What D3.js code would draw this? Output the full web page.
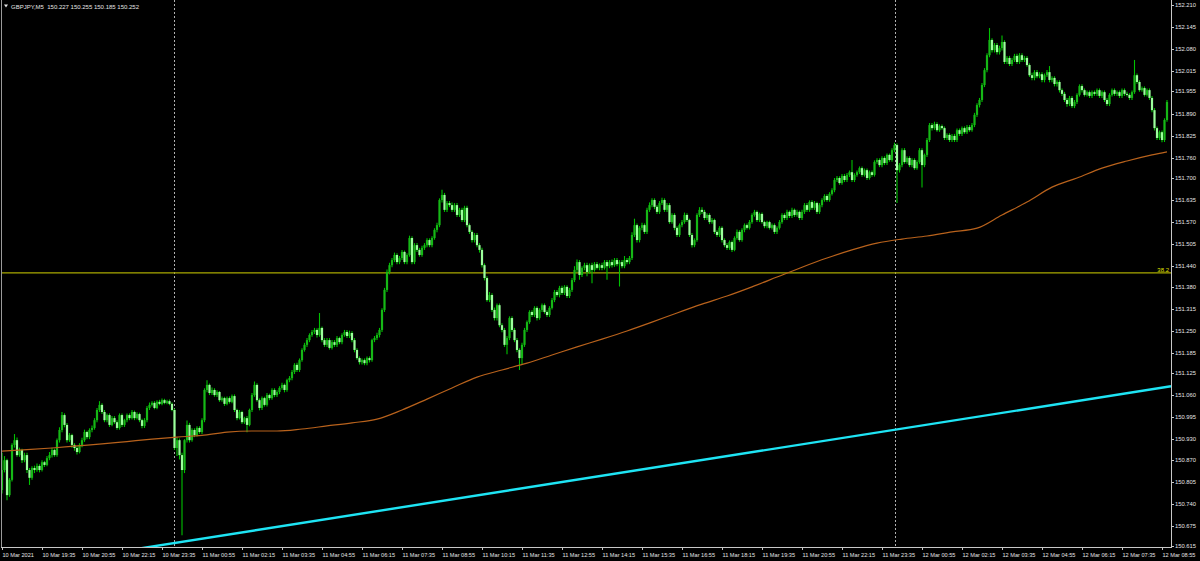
<!DOCTYPE html>
<html><head><meta charset="utf-8">
<script src="https://cdn.jsdelivr.net/npm/d3@7"></script>
<style>html,body{margin:0;padding:0;background:#000;overflow:hidden}svg{display:block}</style>
</head><body><svg id="c" width="1200" height="561"></svg>
<script>
// Prices in points (0.001) above BASE
const BASE = 150, POINT = 0.001;
const symbolTitle = "GBPJPY,M5  150.227 150.255 150.185 150.252";
const openP = [
780,839,868,765,810,913,927,883,898,868,
883,839,816,845,839,851,839,862,854,874,
883,898,883,927,957,1001,972,927,942,913,
904,892,913,927,951,936,957,963,986,1016,
1031,1010,986,1001,972,992,980,963,1001,972,
986,1001,992,1010,992,1004,986,969,986,1022,
1031,1037,1022,1040,1034,1045,1037,1042,1034,1016,
904,927,883,839,927,972,927,957,942,963,
951,986,1075,1090,1066,1075,1060,1069,1045,1051,
1034,1051,1040,1057,1016,992,1010,980,992,972,
1016,1060,1090,1045,1022,1051,1031,1060,1051,1075,
1060,1069,1081,1090,1075,1104,1110,1128,1149,1134,
1163,1193,1208,1222,1237,1246,1252,1237,1258,1222,
1208,1222,1199,1216,1208,1228,1216,1237,1246,1234,
1243,1222,1193,1169,1157,1163,1154,1169,1163,1222,
1228,1237,1252,1311,1370,1423,1443,1458,1473,1452,
1464,1482,1452,1473,1523,1452,1502,1488,1473,1494,
1502,1517,1502,1523,1547,1561,1635,1650,1606,1626,
1620,1606,1620,1591,1606,1576,1612,1561,1541,1517,
1532,1502,1488,1443,1405,1340,1355,1311,1287,1325,
1266,1252,1208,1228,1287,1252,1222,1193,1169,1208,
1252,1275,1305,1296,1317,1287,1311,1325,1305,1296,
1317,1340,1364,1355,1376,1361,1379,1352,1370,1399,
1429,1452,1414,1435,1443,1423,1443,1429,1446,1435,
1443,1435,1452,1440,1452,1443,1458,1446,1452,1440,
1458,1452,1464,1532,1561,1517,1553,1561,1541,1606,
1620,1635,1615,1600,1626,1635,1606,1620,1570,1591,
1553,1532,1561,1570,1591,1576,1532,1502,1517,1591,
1606,1600,1582,1591,1570,1576,1541,1532,1553,1517,
1502,1494,1511,1488,1523,1541,1517,1547,1561,1553,
1570,1591,1600,1576,1594,1570,1558,1570,1553,1561,
1541,1553,1570,1591,1582,1600,1588,1606,1591,1600,
1582,1600,1620,1606,1629,1612,1626,1600,1620,1635,
1647,1635,1653,1664,1694,1700,1685,1706,1694,1709,
1717,1694,1709,1717,1729,1709,1723,1700,1717,1709,
1747,1753,1738,1759,1744,1768,1753,1782,1797,1723,
1738,1782,1747,1759,1738,1753,1729,1747,1782,1738,
1768,1812,1856,1847,1859,1841,1853,1847,1818,1827,
1812,1824,1812,1841,1830,1847,1835,1850,1841,1856,
1886,1915,1930,1974,2018,2062,2107,2077,2092,2071,
2083,2101,2042,2054,2036,2048,2060,2042,2062,2048,
2054,2033,2003,1995,2012,2000,2006,1989,2003,2012,
1989,1995,1977,1983,1959,1948,1930,1918,1936,1912,
1924,1945,1971,1959,1945,1953,1942,1953,1948,1959,
1942,1953,1930,1918,1945,1959,1948,1953,1942,1959,
1948,1945,1936,1953,2003,1983,1959,1965,1945,1959,
1936,1900,1847,1818,1835,1812,1871];
const highP = [
890,880,872,815,918,945,935,905,902,890,
890,845,850,852,858,856,868,866,880,892,
905,902,932,965,1010,1006,978,948,946,918,
910,918,934,958,955,962,970,992,1022,1042,
1036,1016,1006,1006,998,998,986,1006,1006,990,
1006,1006,1016,1014,1009,1008,990,992,1028,1038,
1042,1042,1045,1046,1050,1049,1046,1047,1038,1020,
935,932,890,930,985,978,962,962,968,968,
992,1080,1104,1094,1082,1080,1074,1072,1056,1055,
1056,1056,1062,1062,1020,1016,1014,996,998,1020,
1066,1100,1095,1050,1056,1055,1066,1064,1080,1080,
1074,1086,1096,1094,1108,1116,1134,1154,1155,1168,
1198,1214,1228,1242,1252,1258,1257,1302,1262,1228,
1228,1228,1222,1222,1234,1232,1242,1252,1252,1250,
1248,1228,1198,1174,1168,1168,1174,1174,1226,1234,
1244,1258,1316,1376,1430,1450,1464,1480,1478,1470,
1488,1486,1478,1530,1528,1508,1508,1494,1500,1508,
1522,1522,1528,1552,1568,1640,1665,1656,1632,1632,
1628,1626,1626,1612,1612,1618,1618,1566,1546,1538,
1538,1508,1494,1448,1410,1364,1360,1318,1330,1330,
1272,1258,1234,1292,1292,1258,1228,1198,1214,1258,
1280,1310,1310,1322,1322,1316,1330,1330,1310,1322,
1346,1370,1370,1382,1382,1384,1384,1376,1405,1440,
1460,1458,1440,1450,1450,1448,1450,1452,1452,1448,
1450,1458,1458,1458,1460,1464,1464,1458,1458,1470,
1464,1470,1540,1580,1566,1558,1568,1566,1612,1628,
1640,1640,1620,1632,1642,1640,1626,1626,1596,1596,
1558,1566,1576,1598,1596,1580,1538,1522,1596,1614,
1614,1606,1596,1596,1582,1580,1546,1558,1558,1522,
1508,1516,1516,1528,1548,1546,1552,1566,1566,1576,
1596,1606,1604,1598,1598,1574,1574,1574,1566,1566,
1558,1576,1596,1596,1606,1604,1612,1610,1606,1604,
1606,1626,1626,1634,1634,1632,1630,1626,1640,1652,
1652,1658,1670,1700,1706,1705,1712,1712,1715,1722,
1753,1714,1722,1734,1734,1728,1728,1722,1722,1752,
1758,1758,1764,1764,1772,1772,1788,1804,1802,1744,
1788,1788,1764,1764,1758,1758,1752,1788,1788,1772,
1818,1862,1862,1866,1864,1858,1858,1852,1832,1832,
1830,1830,1846,1846,1852,1852,1856,1856,1862,1892,
1920,1936,1980,2024,2068,2142,2112,2098,2098,2090,
2120,2106,2060,2060,2054,2066,2066,2068,2068,2060,
2060,2038,2010,2018,2018,2012,2012,2008,2018,2030,
2000,2000,1988,1988,1964,1954,1936,1942,1942,1930,
1950,1976,1976,1964,1958,1958,1958,1958,1964,1964,
1958,1958,1936,1950,1964,1964,1958,1958,1964,1964,
1954,1950,1958,2048,2008,1988,1970,1970,1964,1964,
1942,1906,1852,1840,1840,1876,1930];
const lowP = [
770,832,750,760,805,905,878,878,860,862,
830,795,810,830,834,832,835,848,850,868,
876,878,878,920,950,965,920,922,905,896,
885,888,906,922,930,930,950,958,980,1010,
1004,980,980,966,968,975,958,958,966,966,
980,986,988,986,988,980,962,963,980,1016,
1026,1018,1018,1030,1030,1033,1033,1030,1012,898,
880,870,647,830,920,920,922,936,938,946,
945,980,1068,1060,1060,1055,1054,1040,1040,1028,
1030,1035,1036,1010,986,988,975,975,950,968,
1010,1055,1040,1015,1016,1026,1026,1045,1046,1054,
1054,1063,1076,1068,1070,1098,1104,1122,1128,1128,
1158,1188,1202,1216,1232,1240,1230,1232,1216,1202,
1202,1194,1194,1202,1202,1210,1210,1232,1228,1228,
1216,1186,1164,1150,1150,1148,1148,1156,1158,1216,
1222,1230,1246,1305,1364,1416,1437,1452,1446,1446,
1458,1446,1446,1468,1446,1446,1482,1468,1468,1488,
1496,1496,1496,1518,1540,1555,1628,1600,1600,1614,
1600,1600,1585,1585,1570,1570,1555,1535,1510,1510,
1496,1480,1436,1398,1335,1334,1305,1280,1280,1260,
1245,1202,1180,1222,1246,1216,1186,1134,1150,1202,
1246,1270,1290,1290,1280,1282,1305,1300,1290,1290,
1312,1334,1350,1348,1355,1355,1346,1346,1364,1393,
1422,1400,1408,1428,1410,1418,1390,1424,1430,1428,
1428,1430,1400,1434,1436,1438,1440,1380,1434,1434,
1446,1446,1458,1526,1510,1510,1546,1535,1535,1600,
1614,1608,1594,1594,1620,1600,1600,1565,1565,1546,
1526,1526,1555,1565,1570,1526,1495,1496,1512,1585,
1594,1576,1576,1564,1565,1535,1526,1526,1510,1496,
1488,1488,1482,1484,1518,1512,1512,1540,1548,1548,
1565,1586,1570,1570,1565,1552,1552,1548,1548,1535,
1535,1548,1565,1576,1576,1582,1582,1585,1586,1576,
1576,1594,1600,1600,1606,1606,1594,1594,1614,1630,
1630,1630,1648,1658,1688,1680,1680,1688,1688,1703,
1688,1688,1704,1712,1704,1704,1694,1695,1704,1704,
1742,1732,1732,1738,1738,1748,1748,1776,1626,1716,
1732,1742,1742,1732,1732,1724,1724,1742,1672,1732,
1762,1806,1840,1842,1836,1836,1842,1812,1812,1806,
1806,1806,1806,1824,1824,1830,1830,1836,1836,1850,
1880,1908,1924,1968,2012,2056,2070,2070,2064,2064,
2076,2036,2036,2030,2030,2042,2036,2036,2042,2042,
2028,1998,1988,1988,1994,1994,1982,1982,1998,1982,
1982,1970,1970,1952,1942,1924,1910,1912,1906,1906,
1918,1940,1952,1940,1940,1936,1936,1942,1942,1936,
1936,1924,1912,1912,1940,1942,1942,1936,1936,1942,
1940,1930,1930,1948,1978,1954,1954,1940,1940,1930,
1894,1840,1812,1812,1805,1806,1866];
const closeP = [
839,868,765,810,913,927,883,898,868,883,
839,816,845,839,851,839,862,854,874,883,
898,883,927,957,1001,972,927,942,913,904,
892,913,927,951,936,957,963,986,1016,1031,
1010,986,1001,972,992,980,963,1001,972,986,
1001,992,1010,992,1004,986,969,986,1022,1031,
1037,1022,1040,1034,1045,1037,1042,1034,1016,904,
927,883,839,927,972,927,957,942,963,951,
986,1075,1090,1066,1075,1060,1069,1045,1051,1034,
1051,1040,1057,1016,992,1010,980,992,972,1016,
1060,1090,1045,1022,1051,1031,1060,1051,1075,1060,
1069,1081,1090,1075,1104,1110,1128,1149,1134,1163,
1193,1208,1222,1237,1246,1252,1237,1258,1222,1208,
1222,1199,1216,1208,1228,1216,1237,1246,1234,1243,
1222,1193,1169,1157,1163,1154,1169,1163,1222,1228,
1237,1252,1311,1370,1423,1443,1458,1473,1452,1464,
1482,1452,1473,1523,1452,1502,1488,1473,1494,1502,
1517,1502,1523,1547,1561,1635,1650,1606,1626,1620,
1606,1620,1591,1606,1576,1612,1561,1541,1517,1532,
1502,1488,1443,1405,1340,1355,1311,1287,1325,1266,
1252,1208,1228,1287,1252,1222,1193,1169,1208,1252,
1275,1305,1296,1317,1287,1311,1325,1305,1296,1317,
1340,1364,1355,1376,1361,1379,1352,1370,1399,1429,
1452,1414,1435,1443,1423,1443,1429,1446,1435,1443,
1435,1452,1440,1452,1443,1458,1446,1452,1440,1458,
1452,1464,1532,1561,1517,1553,1561,1541,1606,1620,
1635,1615,1600,1626,1635,1606,1620,1570,1591,1553,
1532,1561,1570,1591,1576,1532,1502,1517,1591,1606,
1600,1582,1591,1570,1576,1541,1532,1553,1517,1502,
1494,1511,1488,1523,1541,1517,1547,1561,1553,1570,
1591,1600,1576,1594,1570,1558,1570,1553,1561,1541,
1553,1570,1591,1582,1600,1588,1606,1591,1600,1582,
1600,1620,1606,1629,1612,1626,1600,1620,1635,1647,
1635,1653,1664,1694,1700,1685,1706,1694,1709,1717,
1694,1709,1717,1729,1709,1723,1700,1717,1709,1747,
1753,1738,1759,1744,1768,1753,1782,1797,1723,1738,
1782,1747,1759,1738,1753,1729,1747,1782,1738,1768,
1812,1856,1847,1859,1841,1853,1847,1818,1827,1812,
1824,1812,1841,1830,1847,1835,1850,1841,1856,1886,
1915,1930,1974,2018,2062,2107,2077,2092,2071,2083,
2101,2042,2054,2036,2048,2060,2042,2062,2048,2054,
2033,2003,1995,2012,2000,2006,1989,2003,2012,1989,
1995,1977,1983,1959,1948,1930,1918,1936,1912,1924,
1945,1971,1959,1945,1953,1942,1953,1948,1959,1942,
1953,1930,1918,1945,1959,1948,1953,1942,1959,1948,
1945,1936,1953,2003,1983,1959,1965,1945,1959,1936,
1900,1847,1818,1835,1812,1871,1924];

// moving average (bar index, value in points)
const maBars = [0,10,20,30,40,50,60,70,80,90,100,110,120,130,140,150,160,170,180,190,200,210,220,230,240,250,260,270,280,290,300,310,320,330,340,350,360,370,380,390,400,410,420,430,440,450,460,466];
const maValues = [895,899,904,910,916,923,930,936,941,951,954,954,960,969,978,989,1016,1048,1081,1113,1134,1154,1178,1202,1225,1249,1275,1302,1328,1352,1379,1408,1437,1464,1488,1508,1520,1529,1541,1552,1591,1629,1673,1700,1729,1750,1768,1777];

// trend line anchors (bar index, points) and fibo level
const trendBars = [70, 466];
const trendValues = [625, 1084];
const fiboLevel = 1420, fiboLabel = "38.2";
const daySeparatorBars = [69, 357];

const priceTicks = ["152.210","152.145","152.080","152.015","151.955","151.890","151.825","151.760","151.700","151.635","151.570","151.505","151.440","151.380","151.315","151.250","151.185","151.125","151.060","150.995","150.930","150.870","150.805","150.740","150.675","150.615"];
const timeTicks = ["10 Mar 2021","10 Mar 19:35","10 Mar 20:55","10 Mar 22:15","10 Mar 23:35","11 Mar 00:55","11 Mar 02:15","11 Mar 03:35","11 Mar 04:55","11 Mar 06:15","11 Mar 07:35","11 Mar 08:55","11 Mar 10:15","11 Mar 11:35","11 Mar 12:55","11 Mar 14:15","11 Mar 15:35","11 Mar 16:55","11 Mar 18:15","11 Mar 19:35","11 Mar 20:55","11 Mar 22:15","11 Mar 23:35","12 Mar 00:55","12 Mar 02:15","12 Mar 03:35","12 Mar 04:55","12 Mar 06:15","12 Mar 07:35","12 Mar 08:55"];
const barsPerTimeTick = 16;

const P = v => BASE + v * POINT;
const svg = d3.select('#c');
const plotRight = 1171, plotBottom = 547;
const x = d3.scaleLinear().domain([0, 466]).range([2, 1167]);
const y = d3.scaleLinear().domain([150.615, 152.210]).range([546, 5]);

svg.append('rect').attr('width',1200).attr('height',561).attr('fill','#000');
svg.append('defs').append('clipPath').attr('id','clip')
  .append('rect').attr('x',2).attr('y',0).attr('width',plotRight-2).attr('height',plotBottom);
const g = svg.append('g').attr('clip-path','url(#clip)');

// day separators
g.selectAll('line.sep').data(daySeparatorBars).join('line')
  .attr('x1',d=>Math.round(x(d))+0.5).attr('x2',d=>Math.round(x(d))+0.5)
  .attr('y1',0).attr('y2',plotBottom)
  .attr('stroke','#b0b0b0').attr('stroke-width',1).attr('stroke-dasharray','2,2');

// fibo level line
g.append('line').attr('x1',0).attr('x2',plotRight)
  .attr('y1',y(P(fiboLevel))).attr('y2',y(P(fiboLevel)))
  .attr('stroke','#a8a800').attr('stroke-width',1.2);

// candles
const bars = closeP.map((c,i)=>({i, o:P(openP[i]), h:P(highP[i]), l:P(lowP[i]), c:P(c)}));
g.selectAll('line.wick').data(bars).join('line')
  .attr('x1',d=>x(d.i)).attr('x2',d=>x(d.i))
  .attr('y1',d=>y(d.h)).attr('y2',d=>y(d.l))
  .attr('stroke','#00c200').attr('stroke-width',1.1);
g.selectAll('rect.body').data(bars).join('rect')
  .attr('x',d=>x(d.i)-1.1).attr('width',2.2)
  .attr('y',d=>y(Math.max(d.o,d.c)))
  .attr('height',d=>Math.max(1, Math.abs(y(d.o)-y(d.c))))
  .attr('fill',d=>d.c>=d.o ? '#16b816' : '#9cff9c');

// moving average
const maLine = d3.line().x((d,k)=>x(maBars[k])).y(d=>y(P(d))).curve(d3.curveMonotoneX);
g.append('path').datum(maValues).attr('d',maLine)
  .attr('fill','none').attr('stroke','#b8621c').attr('stroke-width',1.2);

// trend line (extended as a ray through both anchors)
const tScale = d3.scaleLinear().domain(trendBars).range(trendValues.map(P));
const tx0 = x.invert(0), tx1 = x.invert(plotRight);
g.append('line')
  .attr('x1',x(tx0)).attr('y1',y(tScale(tx0)))
  .attr('x2',x(tx1)).attr('y2',y(tScale(tx1)))
  .attr('stroke','#1ee4f4').attr('stroke-width',2.4);

// fibo label
svg.append('text').attr('x',plotRight-2).attr('y',y(P(fiboLevel))-1)
  .attr('text-anchor','end').attr('font-family','Liberation Sans, Arial, sans-serif')
  .attr('font-size',6).attr('fill','#e0e000').text(fiboLabel);

// frame
svg.append('line').attr('x1',1.5).attr('x2',1.5).attr('y1',0).attr('y2',plotBottom)
  .attr('stroke','#9a9a9a').attr('stroke-width',1);
svg.append('line').attr('x1',plotRight+0.5).attr('x2',plotRight+0.5).attr('y1',0).attr('y2',plotBottom+1)
  .attr('stroke','#c8c8c8').attr('stroke-width',1);
svg.append('line').attr('x1',1).attr('x2',plotRight+1).attr('y1',plotBottom+0.5).attr('y2',plotBottom+0.5)
  .attr('stroke','#c8c8c8').attr('stroke-width',1);

// price axis
const pa = svg.append('g');
pa.selectAll('line').data(priceTicks).join('line')
  .attr('x1',plotRight).attr('x2',plotRight+3)
  .attr('y1',d=>Math.round(y(+d))+0.5).attr('y2',d=>Math.round(y(+d))+0.5)
  .attr('stroke','#c8c8c8');
pa.selectAll('text').data(priceTicks).join('text')
  .attr('x',plotRight+4).attr('y',d=>y(+d)+2)
  .attr('font-family','Liberation Sans, Arial, sans-serif').attr('font-size',5.8)
  .attr('fill','#e4e4e4').text(d=>d);

// time axis
const ta = svg.append('g');
ta.selectAll('line').data(timeTicks).join('line')
  .attr('x1',(d,k)=>Math.round(x(k*barsPerTimeTick))+0.5).attr('x2',(d,k)=>Math.round(x(k*barsPerTimeTick))+0.5)
  .attr('y1',plotBottom).attr('y2',plotBottom+3).attr('stroke','#c8c8c8');
ta.selectAll('text').data(timeTicks).join('text')
  .attr('x',(d,k)=>x(k*barsPerTimeTick)+0.5).attr('y',557)
  .attr('font-family','Liberation Sans, Arial, sans-serif').attr('font-size',5.6)
  .attr('fill','#e4e4e4').text(d=>d);

// header
svg.append('path').attr('d','M4,4.5 L8,4.5 L6,7.5 Z').attr('fill','#e4e4e4');
svg.append('text').attr('x',11).attr('y',8.8)
  .attr('font-family','Liberation Sans, Arial, sans-serif').attr('font-size',6)
  .attr('fill','#e4e4e4').attr('xml:space','preserve').style('white-space','pre').text(symbolTitle);
</script>
</body></html>
